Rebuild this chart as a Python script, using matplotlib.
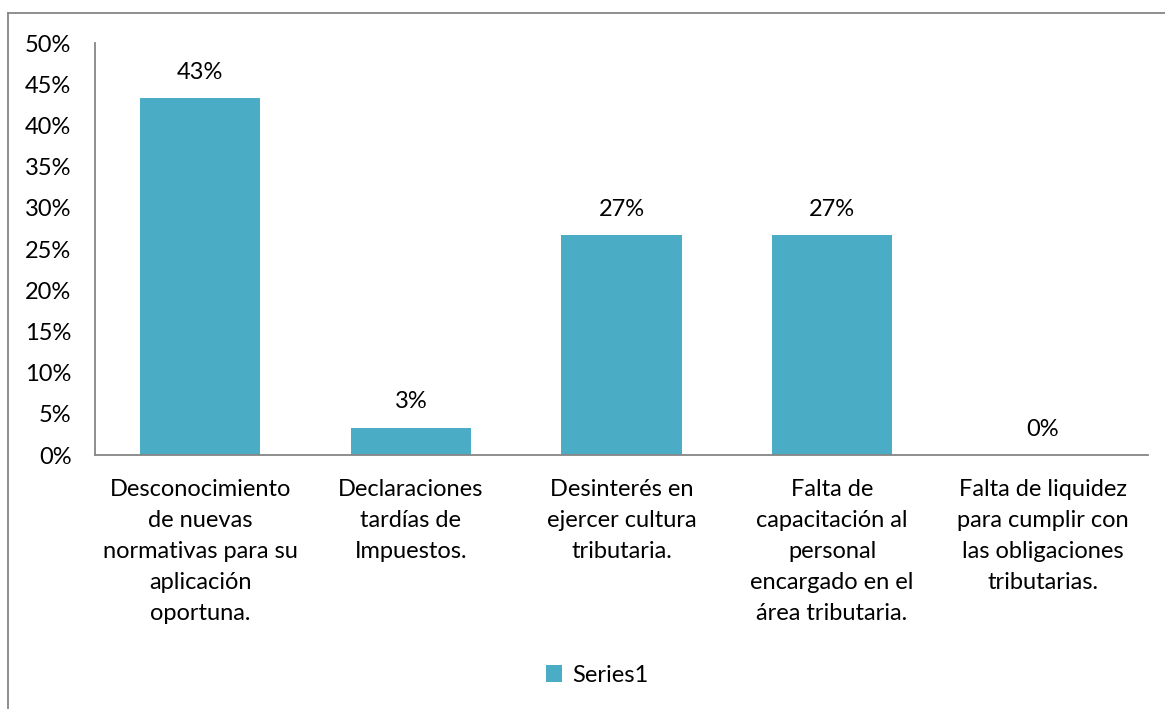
import matplotlib.pyplot as plt
from matplotlib.lines import Line2D

categories = [
    "Desconocimiento\nde nuevas\nnormativas para su\naplicación\noportuna.",
    "Declaraciones\ntardías de\nImpuestos.",
    "Desinterés en\nejercer cultura\ntributaria.",
    "Falta de\ncapacitación al\npersonal\nencargado en el\nárea tributaria.",
    "Falta de liquidez\npara cumplir con\nlas obligaciones\ntributarias.",
]
values = [43.33, 3.33, 26.67, 26.67, 0.0]
value_labels = ["43%", "3%", "27%", "27%", "0%"]
y_ticks = [0, 5, 10, 15, 20, 25, 30, 35, 40, 45, 50]

bar_color = "#4BACC6"
grey = "#868686"
plt.rcParams['font.family'] = ['Lato', 'DejaVu Sans']
fs = 17

fig = plt.figure(figsize=(11.65, 7.09), dpi=100)
ax = fig.add_axes([95 / 1165, 1 - 455 / 709, (1148 - 95) / 1165, (455 - 43) / 709])

x = list(range(len(categories)))
ax.bar(x, values, width=0.57, color=bar_color, label="Series1")

for xi, v, lab in zip(x, values, value_labels):
    ax.annotate(lab, (xi, v), xytext=(0, 11), textcoords="offset points",
                ha="center", va="bottom", fontsize=fs)

ax.set_xlim(-0.5, len(categories) - 0.5)
ax.set_ylim(0, 50)
ax.set_yticks(y_ticks)
ax.set_yticklabels([f"{t}%" for t in y_ticks], fontsize=fs)
ax.set_xticks(x)
ax.set_xticklabels(categories, fontsize=fs, linespacing=1.6, va="top")
ax.tick_params(axis="both", length=0)
ax.tick_params(axis="y", pad=17)
ax.tick_params(axis="x", pad=17)

for s in ["top", "right"]:
    ax.spines[s].set_visible(False)
for s in ["left", "bottom"]:
    ax.spines[s].set_color(grey)
    ax.spines[s].set_linewidth(1.3)

leg = fig.legend(loc="center", bbox_to_anchor=(597 / 1165, 1 - 675 / 709),
                 frameon=False, fontsize=fs, handlelength=0.7, handleheight=0.7,
                 handletextpad=0.4)

# outer chart frame (only top and left edges visible in the crop)
fig.add_artist(Line2D([8 / 1165, 8 / 1165], [0, 1 - 13 / 709], transform=fig.transFigure,
                      color=grey, lw=1.3))
fig.add_artist(Line2D([8 / 1165, 1], [1 - 13 / 709, 1 - 13 / 709], transform=fig.transFigure,
                      color=grey, lw=1.3))

fig.savefig("out.png", dpi=100, facecolor="white")
